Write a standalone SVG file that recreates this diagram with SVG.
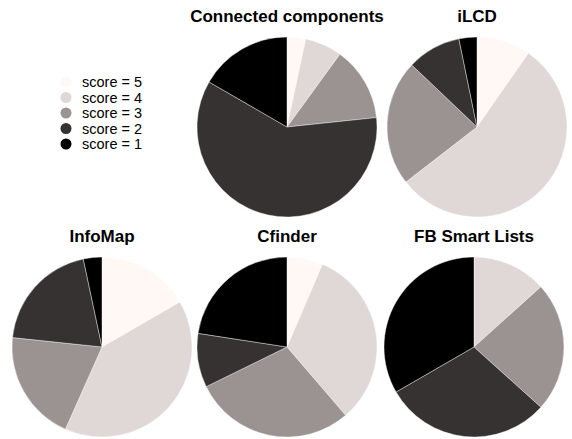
<svg xmlns="http://www.w3.org/2000/svg" width="572" height="439" viewBox="0 0 572 439">
<style>
.t{font-family:"Liberation Sans",Arial,sans-serif;font-weight:bold;font-size:17px;fill:#000;text-anchor:middle}
.l{font-family:"Liberation Sans",Arial,sans-serif;font-size:14.5px;fill:#000}
.s5{fill:#fff8f5}.s4{fill:#e0d8d6}.s3{fill:#9b9391}.s2{fill:#363231}.s1{fill:#000}
path{stroke:#fff;stroke-width:0.4;stroke-linejoin:round}
</style>
<rect width="572" height="439" fill="#fff"/>
<g id="legend">
<circle class="s5" cx="66" cy="82" r="5.5"/><text class="l" x="82" y="87">score = 5</text>
<circle class="s4" cx="66" cy="97.5" r="5.5"/><text class="l" x="82" y="102.5">score = 4</text>
<circle class="s3" cx="66" cy="113" r="5.5"/><text class="l" x="82" y="118">score = 3</text>
<circle class="s2" cx="66" cy="128.5" r="5.5"/><text class="l" x="82" y="133.5">score = 2</text>
<circle class="s1" cx="66" cy="144" r="5.5"/><text class="l" x="82" y="149">score = 1</text>
</g>
<g id="connected-components">
<text class="t" x="287" y="22">Connected components</text>
<path class="s5" d="M287,127 L287,37 A90,90 0 0 1 305.71,38.97 Z"/>
<path class="s4" d="M287,127 L305.71,38.97 A90,90 0 0 1 339.90,54.19 Z"/>
<path class="s3" d="M287,127 L339.90,54.19 A90,90 0 0 1 376.51,117.59 Z"/>
<path class="s2" d="M287,127 L376.51,117.59 A90,90 0 1 1 209.06,82 Z"/>
<path class="s1" d="M287,127 L209.06,82 A90,90 0 0 1 287,37 Z"/>
</g>
<g id="ilcd">
<text class="t" x="477" y="22">iLCD</text>
<path class="s5" d="M477,127 L477,37 A90,90 0 0 1 528.42,53.13 Z"/>
<path class="s4" d="M477,127 L528.42,53.13 A90,90 0 1 1 405.83,182.09 Z"/>
<path class="s3" d="M477,127 L405.83,182.09 A90,90 0 0 1 411.77,64.98 Z"/>
<path class="s2" d="M477,127 L411.77,64.98 A90,90 0 0 1 458.88,38.84 Z"/>
<path class="s1" d="M477,127 L458.88,38.84 A90,90 0 0 1 477,37 Z"/>
</g>
<g id="infomap">
<text class="t" x="102" y="242">InfoMap</text>
<path class="s5" d="M102,347 L102,257 A90,90 0 0 1 179.94,302 Z"/>
<path class="s4" d="M102,347 L179.94,302 A90,90 0 0 1 65.39,429.22 Z"/>
<path class="s3" d="M102,347 L65.39,429.22 A90,90 0 0 1 12.49,337.59 Z"/>
<path class="s2" d="M102,347 L12.49,337.59 A90,90 0 0 1 83.29,258.97 Z"/>
<path class="s1" d="M102,347 L83.29,258.97 A90,90 0 0 1 102,257 Z"/>
</g>
<g id="cfinder">
<text class="t" x="287" y="242">Cfinder</text>
<path class="s5" d="M287,347 L287,257 A90,90 0 0 1 322.49,264.29 Z"/>
<path class="s4" d="M287,347 L322.49,264.29 A90,90 0 0 1 345.63,415.29 Z"/>
<path class="s3" d="M287,347 L345.63,415.29 A90,90 0 0 1 206.20,386.64 Z"/>
<path class="s2" d="M287,347 L206.20,386.64 A90,90 0 0 1 198.03,333.37 Z"/>
<path class="s1" d="M287,347 L198.03,333.37 A90,90 0 0 1 287,257 Z"/>
</g>
<g id="fb-smart-lists">
<text class="t" x="474" y="242">FB Smart Lists</text>
<path class="s4" d="M474,347 L474,257 A90,90 0 0 1 540.88,286.78 Z"/>
<path class="s3" d="M474,347 L540.88,286.78 A90,90 0 0 1 540.88,407.22 Z"/>
<path class="s2" d="M474,347 L540.88,407.22 A90,90 0 0 1 396.06,392 Z"/>
<path class="s1" d="M474,347 L396.06,392 A90,90 0 0 1 474,257 Z"/>
</g>
</svg>
